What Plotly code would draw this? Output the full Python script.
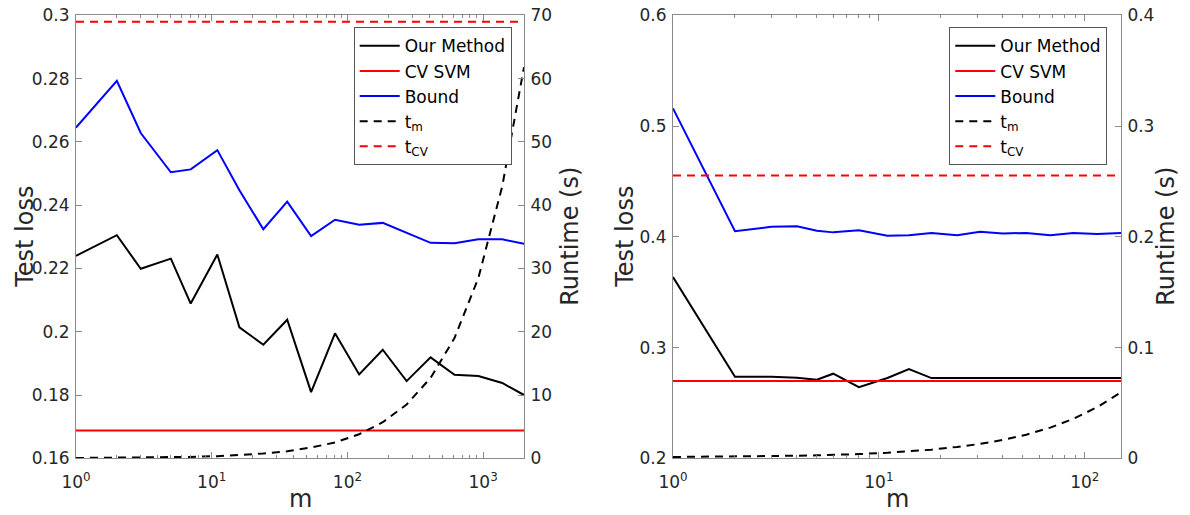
import math
import plotly.graph_objects as go

# ---------------- data ----------------
# Left panel
m_left = [1, 2, 3, 5, 7, 11, 16, 24, 36, 54, 81, 122, 182, 273, 410, 615, 922, 1383, 2000]
ours_left = [0.2240, 0.2305, 0.2199, 0.2231, 0.2089, 0.2244, 0.2014, 0.1959, 0.2038, 0.1809,
             0.1995, 0.1865, 0.1943, 0.1844, 0.1919, 0.1864, 0.1860, 0.1838, 0.1800]
bound_left = [0.2645, 0.2793, 0.2628, 0.2504, 0.2513, 0.2574, 0.2447, 0.2324, 0.2411, 0.2302,
              0.2354, 0.2338, 0.2344, 0.2312, 0.2281, 0.2280, 0.2292, 0.2292, 0.2278]
tm_left = [0.05, 0.07, 0.10, 0.16, 0.22, 0.34, 0.50, 0.75, 1.1, 1.7,
           2.5, 3.8, 5.7, 8.5, 12.7, 19.0, 28.5, 43.0, 61.8]
cvsvm_left = 0.1688
tcv_left = 69.0

# Right panel
m_right = [1, 2, 3, 4, 5, 6, 8, 11, 14, 18, 24, 31, 40, 52, 68, 88, 115, 150]
ours_right = [0.3636, 0.2736, 0.2736, 0.2727, 0.2709, 0.2764, 0.2642, 0.2725, 0.2806, 0.2724,
              0.2724, 0.2724, 0.2724, 0.2724, 0.2724, 0.2724, 0.2724, 0.2724]
bound_right = [0.5160, 0.4050, 0.4090, 0.4095, 0.4055, 0.4040, 0.4060, 0.4010, 0.4015, 0.4035,
               0.4015, 0.4045, 0.4030, 0.4035, 0.4015, 0.4035, 0.4025, 0.4035]
tm_right = [0.0012, 0.0015, 0.0019, 0.0023, 0.0027, 0.0030, 0.0038, 0.0050, 0.0062, 0.0078,
            0.0103, 0.0130, 0.0166, 0.0213, 0.0277, 0.0356, 0.0462, 0.0595]
cvsvm_right = 0.2697
tcv_right = 0.2554

# Tick labels
xtick_vals_left = [1, 10, 100, 1000]
xtick_text_left = ["10<sup>0</sup>", "10<sup>1</sup>", "10<sup>2</sup>", "10<sup>3</sup>"]
xtick_vals_right = [1, 10, 100]
xtick_text_right = ["10<sup>0</sup>", "10<sup>1</sup>", "10<sup>2</sup>"]
ytick_vals_left = [0.16, 0.18, 0.2, 0.22, 0.24, 0.26, 0.28, 0.3]
ytick_text_left = ["0.16", "0.18", "0.2", "0.22", "0.24", "0.26", "0.28", "0.3"]
y2tick_vals_left = [0, 10, 20, 30, 40, 50, 60, 70]
ytick_vals_right = [0.2, 0.3, 0.4, 0.5, 0.6]
ytick_text_right = ["0.2", "0.3", "0.4", "0.5", "0.6"]
y2tick_vals_right = [0, 0.1, 0.2, 0.3, 0.4]
y2tick_text_right = ["0", "0.1", "0.2", "0.3", "0.4"]

minor_left = [k * 10 ** e for e in range(0, 4) for k in range(2, 10) if k * 10 ** e <= 2000]
minor_right = [k * 10 ** e for e in range(0, 3) for k in range(2, 10) if k * 10 ** e <= 150]

# ---------------- styling ----------------
W, H = 1190, 515
FONT = "DejaVu Sans"
TXT = "#262626"
LINE = "#8a8a8a"
TICKF = 17
LEGF = 17
TITLEF = 24
DASH = "8px,6px"
LW = 2

def px_x(p):
    return p / W

def px_y(p):
    return 1 - p / H

ytop, ybot = 15.3, 458.3
left_dom = [px_x(76), px_x(524)]
right_dom = [px_x(673), px_x(1121)]
ydom = [px_y(ybot), px_y(ytop)]

fig = go.Figure()

def add_panel(xa, ya, ya2, m, ours, cvsvm, bound, tm, tcv, legend):
    fig.add_trace(go.Scatter(x=m, y=ours, mode="lines", name="Our Method",
                             line=dict(color="black", width=LW), xaxis=xa, yaxis=ya, legend=legend))
    fig.add_trace(go.Scatter(x=[m[0], m[-1]], y=[cvsvm, cvsvm], mode="lines", name="CV SVM",
                             line=dict(color="#ff0000", width=LW), xaxis=xa, yaxis=ya, legend=legend))
    fig.add_trace(go.Scatter(x=m, y=bound, mode="lines", name="Bound",
                             line=dict(color="#0000ff", width=LW), xaxis=xa, yaxis=ya, legend=legend))
    fig.add_trace(go.Scatter(x=m, y=tm, mode="lines", name="t<sub>m</sub>",
                             line=dict(color="black", width=LW, dash=DASH), xaxis=xa, yaxis=ya2, legend=legend))
    fig.add_trace(go.Scatter(x=[m[0], m[-1]], y=[tcv, tcv], mode="lines", name="t<sub>CV</sub>",
                             line=dict(color="#ff0000", width=LW, dash=DASH), xaxis=xa, yaxis=ya2, legend=legend))

add_panel("x", "y", "y2", m_left, ours_left, cvsvm_left, bound_left, tm_left, tcv_left, "legend")
add_panel("x2", "y3", "y4", m_right, ours_right, cvsvm_right, bound_right, tm_right, tcv_right, "legend2")

tickfont = dict(family=FONT, size=TICKF, color=TXT)

def xaxis(dom, rng, vals, text, minor, anchor):
    return dict(domain=dom, type="log", range=rng, tickmode="array", tickvals=vals, ticktext=text,
                ticks="inside", ticklen=6, tickcolor=LINE, tickwidth=1,
                showline=True, linecolor=LINE, linewidth=1, mirror="ticks",
                showgrid=False, zeroline=False, tickfont=tickfont, anchor=anchor,
                automargin=False, ticklabelstandoff=8, ticklabeloverflow="allow",
                minor=dict(tickmode="array", tickvals=minor, ticks="inside", ticklen=3,
                           tickcolor=LINE, showgrid=False))

def yaxis(rng, vals, text, anchor, side="left", overlaying=None):
    d = dict(domain=ydom, range=rng, tickmode="array", tickvals=vals, ticktext=text,
             ticks="inside", ticklen=6, tickcolor=LINE, tickwidth=1,
             showline=True, linecolor=LINE, linewidth=1, mirror=False,
             showgrid=False, zeroline=False, tickfont=tickfont, anchor=anchor, side=side,
             automargin=False, ticklabelstandoff=2, ticklabeloverflow="allow")
    if overlaying:
        d["overlaying"] = overlaying
    return d

legend_common = dict(font=dict(family=FONT, size=LEGF, color="black"), bgcolor="white",
                     bordercolor="#555555", borderwidth=1, xanchor="right", yanchor="top",
                     tracegroupgap=0, itemwidth=40)

fig.update_layout(
    width=W, height=H,
    margin=dict(l=0, r=0, t=0, b=0, autoexpand=False),
    paper_bgcolor="white", plot_bgcolor="white",
    font=dict(family=FONT, color=TXT),
    xaxis=xaxis(left_dom, [0, math.log10(2000)], xtick_vals_left, xtick_text_left, minor_left, "y"),
    xaxis2=xaxis(right_dom, [0, math.log10(150)], xtick_vals_right, xtick_text_right, minor_right, "y3"),
    yaxis=yaxis([0.16, 0.30], ytick_vals_left, ytick_text_left, "x"),
    yaxis2=yaxis([0, 70], y2tick_vals_left, [str(v) for v in y2tick_vals_left], "x", "right", "y"),
    yaxis3=yaxis([0.2, 0.6], ytick_vals_right, ytick_text_right, "x2"),
    yaxis4=yaxis([0, 0.4], y2tick_vals_right, y2tick_text_right, "x2", "right", "y3"),
    legend=dict(x=px_x(511.7), y=px_y(27.3), **legend_common),
    legend2=dict(x=px_x(1107.3), y=px_y(27.3), **legend_common),
    showlegend=True,
)

titlefont = dict(family=FONT, size=TITLEF, color=TXT)
ymid = px_y((ytop + ybot) / 2)
annos = [
    dict(text="Test loss", x=px_x(25), y=ymid, textangle=-90),
    dict(text="Runtime (s)", x=px_x(570), y=ymid, textangle=-90),
    dict(text="Test loss", x=px_x(625), y=ymid, textangle=-90),
    dict(text="Runtime (s)", x=px_x(1166), y=ymid, textangle=-90),
    dict(text="m", x=px_x(300), y=px_y(499)),
    dict(text="m", x=px_x(897), y=px_y(499)),
]
for a in annos:
    fig.add_annotation(xref="paper", yref="paper", showarrow=False, xanchor="center", yanchor="middle",
                       font=titlefont, **a)

# remove the browser's default 8px page margin so the figure fills the window exactly
fig.write_html("out.html", config={"displayModeBar": False},
               post_script="document.body.style.margin='0px';document.body.style.overflow='hidden';")
